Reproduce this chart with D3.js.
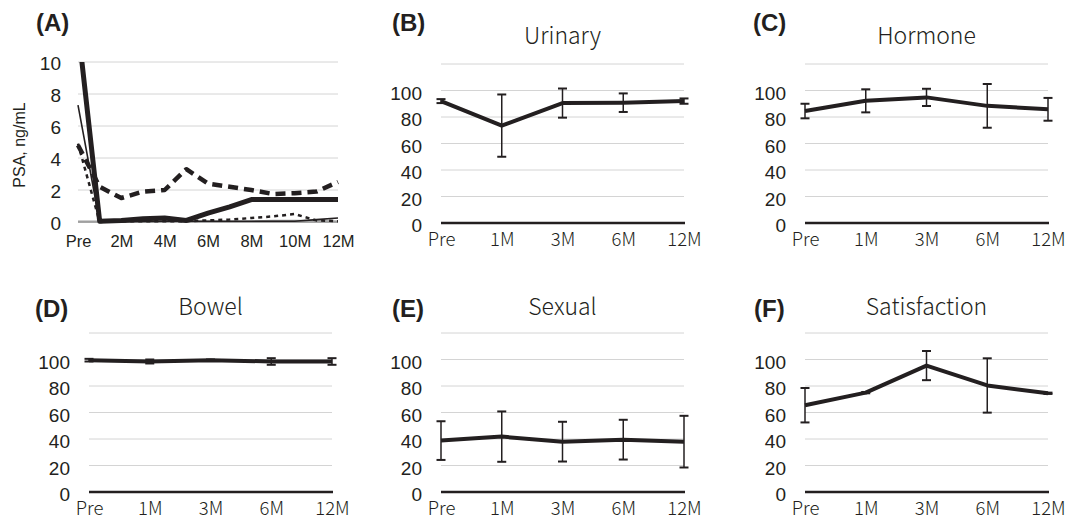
<!DOCTYPE html>
<html>
<head>
<meta charset="utf-8">
<script src="https://cdn.jsdelivr.net/npm/d3@7"></script>
<style>
  body { margin: 0; background: #fff; }
  svg { display: block; }
</style>
</head>
<body>
<div id="chart-area"></div>
<script>
// PSA panel (A): monthly
var psaMonths = ["Pre", "1M", "2M", "3M", "4M", "5M", "6M", "7M", "8M", "9M", "10M", "11M", "12M"];
var psaTicks = [0, 2, 4, 6, 8, 10];
var psaThick = [12.2, 0.05, 0.1, 0.2, 0.25, 0.1, 0.55, 0.95, 1.4, 1.4, 1.4, 1.4, 1.4];
var psaDash = [4.8, 2.2, 1.5, 1.9, 2.0, 3.3, 2.4, 2.2, 2.0, 1.75, 1.8, 1.9, 2.5];
var psaDot = [4.9, 0.0, 0.05, 0.05, 0.05, 0.05, 0.1, 0.15, 0.25, 0.35, 0.5, 0.1, 0.05];
var psaThin = [7.3, 0.0, 0.02, 0.03, 0.05, 0.05, 0.05, 0.05, 0.05, 0.05, 0.05, 0.15, 0.25];
var psaGrey = [0.05, 0.05, 0.05, 0.05, 0.05, 0.05, 0.05, 0.05, 0.05, 0.1, 0.1, 0.1, 0.05];

// QOL panels (B)-(F)
var visits = ["Pre", "1M", "3M", "6M", "12M"];
var scoreTicks = [0, 20, 40, 60, 80, 100];
var gridTicks = [20, 40, 60, 80, 100, 120];

var urinaryMean = [92, 73.5, 90.5, 90.8, 92];
var urinaryErr = [1.5, 23.5, 11, 7, 2];
var hormoneMean = [84.5, 92.2, 94.8, 88.4, 85.8];
var hormoneErr = [5.5, 8.7, 6.5, 16.5, 8.6];
var bowelMean = [99.5, 98.5, 99.5, 98.5, 98.5];
var bowelErr = [1, 1.5, 0.5, 2.5, 2.5];
var sexualMean = [38.8, 41.8, 38, 39.5, 38];
var sexualErr = [14.6, 19, 15, 15, 19.5];
var satisMean = [65.5, 75, 95.4, 80.4, 74.5];
var satisErr = [13, 0.5, 11, 20.5, 0.5];

var ink = "#231f20";
var gridColor = "#d4d4d4";
var tickFont = "'Liberation Sans', Arial, sans-serif";
var jpFont = "'Noto Sans CJK JP', 'Noto Sans', sans-serif";

var svg = d3.select("#chart-area").append("svg")
    .attr("width", 1069)
    .attr("height", 520);

svg.append("rect").attr("width", 1069).attr("height", 520).attr("fill", "#fff");

function panelLabel(txt, x, y) {
    svg.append("text")
        .attr("x", x).attr("y", y)
        .attr("font-family", tickFont)
        .attr("font-weight", "bold")
        .attr("font-size", "24px")
        .attr("fill", ink)
        .text(txt);
}

// ---------- panel A ----------
(function () {
    var x0 = 78, x1 = 338, yTop = 62, yBot = 222;
    var x = d3.scalePoint().domain(psaMonths).range([x0, x1]);
    var y = d3.scaleLinear().domain([0, 10]).range([yBot, yTop]);

    var g = svg.append("g");

    g.selectAll(".grid").data(psaTicks.slice(1)).enter()
        .append("line")
        .attr("x1", x0).attr("x2", x1)
        .attr("y1", (d) => y(d)).attr("y2", (d) => y(d))
        .attr("stroke", gridColor).attr("stroke-width", 1);

    g.append("line")
        .attr("x1", x0).attr("x2", x1)
        .attr("y1", y(0)).attr("y2", y(0))
        .attr("stroke", "#8a8a8a").attr("stroke-width", 1.5);

    var yAxis = g.append("g")
        .attr("transform", "translate(" + (x0 - 17) + ",0)")
        .call(d3.axisLeft(y).tickValues(psaTicks).tickSize(0).tickPadding(0));
    yAxis.select(".domain").remove();
    yAxis.selectAll("text")
        .attr("font-family", tickFont).attr("font-size", "19px")
        .attr("fill", ink).attr("dy", "0.42em");

    var xAxis = g.append("g")
        .attr("transform", "translate(0," + yBot + ")")
        .call(d3.axisBottom(x).tickSize(0).tickPadding(0)
            .tickFormat((d, i) => i % 2 === 0 ? d : ""));
    xAxis.select(".domain").remove();
    xAxis.selectAll("text")
        .attr("font-family", tickFont).attr("font-size", "16.5px")
        .attr("fill", ink).attr("dy", "0").attr("y", 24.5);

    svg.append("text")
        .attr("transform", "translate(25," + ((yTop + yBot) / 2 + 3) + ") rotate(-90)")
        .attr("text-anchor", "middle")
        .attr("font-family", tickFont)
        .attr("font-size", "16px")
        .attr("fill", ink)
        .text("PSA, ng/mL");

    svg.append("clipPath").attr("id", "clipA")
        .append("rect").attr("x", x0 - 5).attr("y", yTop).attr("width", x1 - x0 + 10).attr("height", yBot - yTop + 10);

    var line = d3.line()
        .x((d, i) => x(psaMonths[i]))
        .y((d) => y(d));

    var series = [
        {v: psaGrey, w: 1.5, c: "#a0a0a0", dash: null},
        {v: psaThin, w: 1.6, c: ink, dash: null},
        {v: psaDot, w: 2.5, c: ink, dash: "4,4"},
        {v: psaDash, w: 4.5, c: ink, dash: "10,6"},
        {v: psaThick, w: 5, c: ink, dash: null}
    ];

    var lines = g.append("g").attr("clip-path", "url(#clipA)");
    series.forEach((s) => {
        lines.append("path")
            .attr("d", line(s.v))
            .attr("fill", "none")
            .attr("stroke", s.c)
            .attr("stroke-width", s.w)
            .attr("stroke-linejoin", "round")
            .attr("stroke-dasharray", s.dash);
    });

    panelLabel("(A)", 36, 31);
})();

// ---------- panels B-F ----------
function drawPanel(p) {
    var x = d3.scalePoint().domain(visits).range([p.x0, p.x1]);
    var y = d3.scaleLinear().domain([0, 120]).range([p.yBot, p.yBot - 159]);

    var g = svg.append("g");

    g.selectAll(".grid").data(gridTicks).enter()
        .append("line")
        .attr("x1", p.x0).attr("x2", p.x1)
        .attr("y1", (d) => y(d)).attr("y2", (d) => y(d))
        .attr("stroke", gridColor).attr("stroke-width", 1);

    g.append("line")
        .attr("x1", p.x0).attr("x2", p.x1 + 1)
        .attr("y1", y(0)).attr("y2", y(0))
        .attr("stroke", ink).attr("stroke-width", 2.5);

    var yAxis = g.append("g")
        .attr("transform", "translate(" + (p.x0 - 19) + ",0)")
        .call(d3.axisLeft(y).tickValues(scoreTicks).tickSize(0).tickPadding(0));
    yAxis.select(".domain").remove();
    yAxis.selectAll("text")
        .attr("font-family", tickFont).attr("font-size", "19px")
        .attr("fill", ink).attr("dy", "0.45em");

    var xAxis = g.append("g")
        .attr("transform", "translate(0," + p.yBot + ")")
        .call(d3.axisBottom(x).tickSize(0).tickPadding(0));
    xAxis.select(".domain").remove();
    xAxis.selectAll("text")
        .attr("font-family", jpFont).attr("font-size", "18.5px").attr("font-weight", 300)
        .attr("fill", ink).attr("dy", "0").attr("y", 23);

    var pts = visits.map((v, i) => ({k: v, m: p.mean[i], e: p.err[i]}));

    var bars = g.selectAll(".err").data(pts).enter().append("g");
    bars.append("line")
        .attr("x1", (d) => x(d.k)).attr("x2", (d) => x(d.k))
        .attr("y1", (d) => y(d.m - d.e)).attr("y2", (d) => y(d.m + d.e))
        .attr("stroke", ink).attr("stroke-width", 1.5);
    [-1, 1].forEach((s) => {
        bars.append("line")
            .attr("x1", (d) => x(d.k) - 4.5).attr("x2", (d) => x(d.k) + 4.5)
            .attr("y1", (d) => y(d.m + s * d.e)).attr("y2", (d) => y(d.m + s * d.e))
            .attr("stroke", ink).attr("stroke-width", 2);
    });

    g.append("path")
        .datum(pts)
        .attr("d", d3.line().x((d) => x(d.k)).y((d) => y(d.m)))
        .attr("fill", "none")
        .attr("stroke", ink)
        .attr("stroke-width", 4)
        .attr("stroke-linejoin", "round");

    svg.append("text")
        .attr("x", (p.x0 + p.x1) / 2).attr("y", p.titleY)
        .attr("text-anchor", "middle")
        .attr("font-family", jpFont)
        .attr("font-size", "23px")
        .attr("font-weight", 300)
        .attr("fill", ink)
        .text(p.title);

    panelLabel(p.label, p.lx, p.ly);
}

drawPanel({label: "(B)", title: "Urinary", mean: urinaryMean, err: urinaryErr,
    x0: 441, x1: 684, yBot: 223, titleY: 44, lx: 392, ly: 31});
drawPanel({label: "(C)", title: "Hormone", mean: hormoneMean, err: hormoneErr,
    x0: 805, x1: 1048, yBot: 223, titleY: 44, lx: 753, ly: 31});
drawPanel({label: "(D)", title: "Bowel", mean: bowelMean, err: bowelErr,
    x0: 89, x1: 332, yBot: 492, titleY: 315, lx: 35, ly: 317});
drawPanel({label: "(E)", title: "Sexual", mean: sexualMean, err: sexualErr,
    x0: 441, x1: 684, yBot: 492, titleY: 315, lx: 392, ly: 317});
drawPanel({label: "(F)", title: "Satisfaction", mean: satisMean, err: satisErr,
    x0: 805, x1: 1048, yBot: 492, titleY: 315, lx: 754, ly: 317});
</script>
</body>
</html>
